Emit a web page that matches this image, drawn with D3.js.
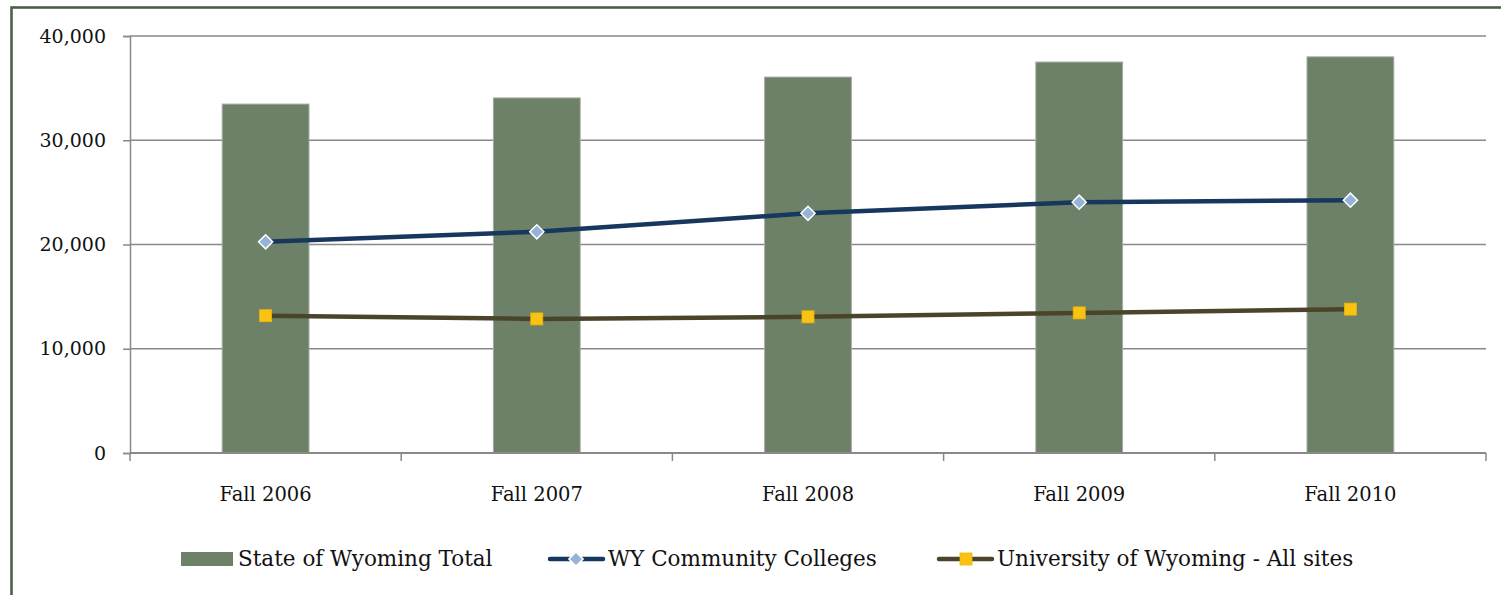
<!DOCTYPE html>
<html>
<head>
<meta charset="utf-8">
<script src="https://cdn.jsdelivr.net/npm/d3@7"></script>
<style>
  body { margin: 0; background: #fff; }
  text { font-family: "DejaVu Serif", serif; fill: #111; }
</style>
</head>
<body>
<div id="chart"></div>
<script>
/** Chart data */
var terms = ["Fall 2006", "Fall 2007", "Fall 2008", "Fall 2009", "Fall 2010"];
var stateTotal = [33470, 34060, 36060, 37500, 38000];
var communityColleges = [20260, 21220, 22990, 24060, 24250];
var universityWY = [13170, 12860, 13060, 13440, 13800];
var yTicks = [0, 10000, 20000, 30000, 40000];
var seriesNames = ["State of Wyoming Total", "WY Community Colleges", "University of Wyoming - All sites"];

var W = 1501, H = 595;
var margin = {top: 36, right: 15, bottom: 142, left: 130};
var width = W - margin.left - margin.right;
var height = H - margin.top - margin.bottom;

var svg = d3.select("#chart").append("svg")
  .attr("width", W)
  .attr("height", H);

// outer frame (only top and left visible)
svg.append("rect")
  .attr("x", 11.5).attr("y", 7.5)
  .attr("width", W + 20).attr("height", H + 20)
  .attr("fill", "none")
  .attr("stroke", "#4d5f4c")
  .attr("stroke-width", 2.6);

var g = svg.append("g")
  .attr("transform", "translate(" + margin.left + "," + margin.top + ")");

var x = d3.scaleBand()
  .domain(terms)
  .range([0, width])
  .padding(0);

var y = d3.scaleLinear()
  .domain([0, 40000])
  .range([height, 0]);

// gridlines
g.append("g")
  .selectAll("line")
  .data(yTicks.slice(1))
  .enter()
  .append("line")
    .attr("x1", 0).attr("x2", width)
    .attr("y1", function(d) { return y(d); })
    .attr("y2", function(d) { return y(d); })
    .attr("stroke", "#898989")
    .attr("stroke-width", 1.5);

// y axis
var yAxis = g.append("g")
  .call(d3.axisLeft(y).tickValues(yTicks).tickSize(7).tickPadding(17)
    .tickFormat(d3.format(",")));
yAxis.select(".domain").attr("stroke", "#898989").attr("stroke-width", 1.5);
yAxis.selectAll(".tick line").attr("stroke", "#898989").attr("stroke-width", 1.5);
yAxis.selectAll("text")
  .style("font-family", "DejaVu Serif, serif")
  .style("font-size", "19px")
  .attr("fill", "#111");

// bars
var barW = x.bandwidth() * 0.32;
g.selectAll(".bar")
  .data(stateTotal)
  .enter()
  .append("rect")
    .attr("class", "bar")
    .attr("x", function(d, i) { return x(terms[i]) + x.bandwidth() / 2 - barW / 2; })
    .attr("y", function(d) { return y(d); })
    .attr("width", barW)
    .attr("height", function(d) { return height - y(d); })
    .attr("fill", "#6d8068")
    .attr("stroke", "#a3aba2")
    .attr("stroke-width", 1);

// x axis
var xAxisG = g.append("g")
  .attr("transform", "translate(0," + height + ")");
xAxisG.append("line")
  .attr("x1", 0).attr("x2", width)
  .attr("stroke", "#898989").attr("stroke-width", 2);
xAxisG.selectAll(".xtick")
  .data(d3.range(terms.length + 1))
  .enter()
  .append("line")
    .attr("x1", function(i) { return i * x.step(); })
    .attr("x2", function(i) { return i * x.step(); })
    .attr("y1", 0).attr("y2", 8)
    .attr("stroke", "#898989").attr("stroke-width", 1.5);
xAxisG.selectAll(".xlabel")
  .data(terms)
  .enter()
  .append("text")
    .attr("x", function(d) { return x(d) + x.bandwidth() / 2; })
    .attr("y", 48)
    .attr("text-anchor", "middle")
    .style("font-size", "19.5px")
    .text(function(d) { return d; });

// lines
var cx = function(d, i) { return x(terms[i]) + x.bandwidth() / 2; };
var line = d3.line()
  .x(cx)
  .y(function(d) { return y(d); });

g.append("path")
  .datum(communityColleges)
  .attr("fill", "none")
  .attr("stroke", "#17375e")
  .attr("stroke-width", 4.5)
  .attr("d", line);

g.append("path")
  .datum(universityWY)
  .attr("fill", "none")
  .attr("stroke", "#4a452a")
  .attr("stroke-width", 4.5)
  .attr("d", line);

var diamond = d3.symbol().type(d3.symbolSquare).size(100);

g.selectAll(".cc")
  .data(communityColleges)
  .enter()
  .append("path")
    .attr("d", diamond)
    .attr("transform", function(d, i) { return "translate(" + cx(d, i) + "," + y(d) + ") rotate(45)"; })
    .attr("fill", "#95b3d7")
    .attr("stroke", "#fff")
    .attr("stroke-width", 1.5);

g.selectAll(".uw")
  .data(universityWY)
  .enter()
  .append("rect")
    .attr("x", function(d, i) { return cx(d, i) - 6; })
    .attr("y", function(d) { return y(d) - 6; })
    .attr("width", 12).attr("height", 12)
    .attr("fill", "#fac314")
    .attr("stroke", "#f0b400")
    .attr("stroke-width", 0.8);

// legend
var legend = svg.append("g");
var ly = 559;
var legendFont = "21.5px";

legend.append("rect")
  .attr("x", 181).attr("y", ly - 7)
  .attr("width", 52).attr("height", 14)
  .attr("fill", "#6d8068");
legend.append("text")
  .attr("x", 238).attr("y", ly + 7)
  .style("font-size", legendFont)
  .text(seriesNames[0]);

legend.append("line")
  .attr("x1", 550).attr("x2", 603)
  .attr("y1", ly).attr("y2", ly)
  .attr("stroke", "#17375e").attr("stroke-width", 4.5)
  .attr("stroke-linecap", "round");
legend.append("path")
  .attr("d", diamond)
  .attr("transform", "translate(576," + ly + ") rotate(45)")
  .attr("fill", "#95b3d7").attr("stroke", "#fff").attr("stroke-width", 1.5);
legend.append("text")
  .attr("x", 608).attr("y", ly + 7)
  .style("font-size", legendFont)
  .text(seriesNames[1]);

legend.append("line")
  .attr("x1", 939).attr("x2", 992)
  .attr("y1", ly).attr("y2", ly)
  .attr("stroke", "#4a452a").attr("stroke-width", 4.5)
  .attr("stroke-linecap", "round");
legend.append("rect")
  .attr("x", 960).attr("y", ly - 6)
  .attr("width", 12).attr("height", 12)
  .attr("fill", "#fac314").attr("stroke", "#f0b400").attr("stroke-width", 0.8);
legend.append("text")
  .attr("x", 997).attr("y", ly + 7)
  .style("font-size", legendFont)
  .text(seriesNames[2]);
</script>
</body>
</html>
